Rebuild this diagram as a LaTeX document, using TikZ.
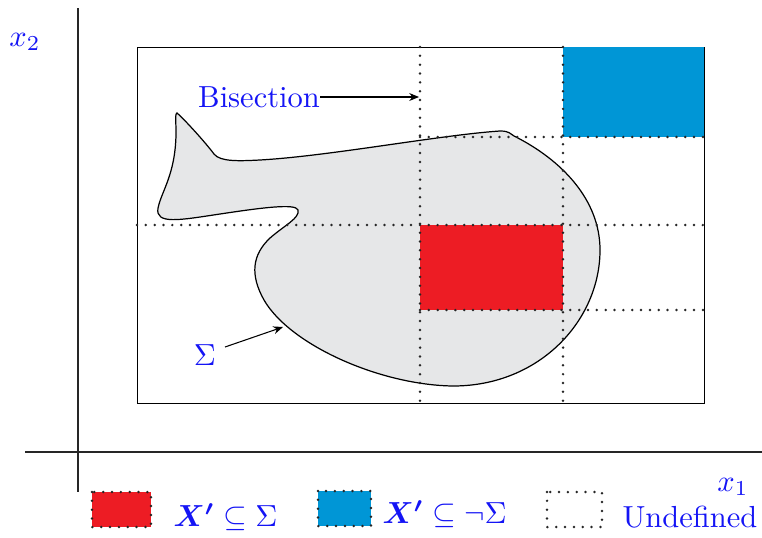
\documentclass[tikz,border=0pt]{standalone}
\usepackage{amsmath,amssymb}
\usetikzlibrary{arrows.meta}
\definecolor{sigred}{RGB}{237,28,36}
\definecolor{sigblue}{RGB}{0,150,214}
\definecolor{bloby}{RGB}{230,231,232}
\definecolor{lblue}{RGB}{20,20,245}
\tikzset{
  dotline/.style={draw=black!85,line width=0.9pt,line cap=round,dash pattern=on 0pt off 2.9pt},
  lbl/.style={text=lblue,font=\fontsize{10}{12}\selectfont,inner sep=0pt},
  axis/.style={line width=0.75pt,black!85},
  ptr/.style={line width=0.35pt,-{Stealth[length=3.2pt,width=2.6pt]}}
}
\begin{document}
\begin{tikzpicture}[x=0.328pt,y=-0.328pt]
\useasboundingbox (0,0) rectangle (762,537);
% axes
\draw[axis] (78,8) -- (78,492);
\draw[axis] (25,452) -- (762,452);
\node[lbl] (x2) at (25,42) {$x_2$};
\node[lbl] (x1) at (733,487) {$x_1$};
% outer rectangle
\draw[line width=0.3pt] (137,47) rectangle (704,403);
% coloured cells
\fill[sigblue] (563,47) rectangle (704,137);
% blob
\draw[fill=bloby,line width=0.4pt]
 (177,113) .. controls (185,120) and (205,142) .. (214,154)
 .. controls (220,162) and (240,161) .. (260,160)
 .. controls (330,156) and (440,135) .. (500,131)
 .. controls (510,131) and (510,134) .. (514,136)
 .. controls (562,160) and (600,200) .. (600,250)
 .. controls (600,320) and (540,386) .. (453,386)
 .. controls (380,385) and (290,345) .. (264,300)
 .. controls (250,275) and (252,255) .. (270,238)
 .. controls (285,225) and (300,218) .. (298,210)
 .. controls (296,203) and (260,208) .. (220,214)
 .. controls (180,220) and (155,225) .. (158,208)
 .. controls (162,190) and (175,175) .. (176,135)
 .. controls (176,120) and (175,113) .. (177,113) -- cycle;
% red cell over blob
\fill[sigred] (420,225) rectangle (563,310);
% dotted bisection lines
\draw[dotline] (420,47) -- (420,403);
\draw[dotline] (563,47) -- (563,403);
\draw[dotline] (137,225) -- (704,225);
\draw[dotline] (420,137) -- (704,137);
\draw[dotline] (420,310) -- (704,310);
% labels with pointers
\node[lbl] (bis) at (259,97) {Bisection};
\coordinate (bisend) at (419,97);
\draw[ptr] (bis.east) -- (bisend);
\node[lbl] (sig) at (205,355) {$\Sigma$};
\coordinate (sigstart) at (225,347);
\coordinate (sigend) at (283,327);
\draw[ptr] (sigstart) -- (sigend);
% legend
\fill[sigred] (92,492) rectangle (151,527);
\draw[dotline] (92,492) rectangle (151,527);
\node[lbl,anchor=west] (l1) at (173,517) {$\boldsymbol{X'}\subseteq\Sigma$};
\fill[sigblue] (318,491) rectangle (371,526);
\draw[dotline] (318,491) rectangle (371,526);
\node[lbl,anchor=west] (l2) at (382,514) {$\boldsymbol{X'}\subseteq\neg\Sigma$};
\draw[dotline] (547,492) rectangle (602,527);
\node[lbl,anchor=west] (l3) at (622,517) {Undefined};
\end{tikzpicture}
\end{document}
